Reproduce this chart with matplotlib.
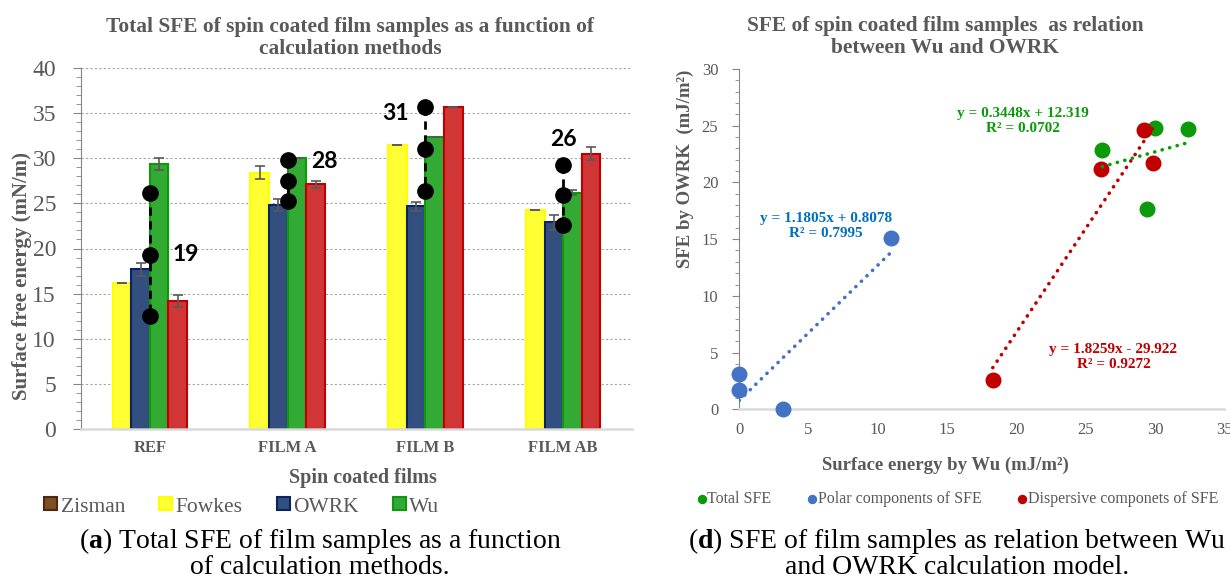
import numpy as np
import matplotlib
matplotlib.use("Agg")
import matplotlib.pyplot as plt
from matplotlib.patches import Patch
from matplotlib.ticker import MultipleLocator

plt.rcParams['font.family'] = ['Liberation Serif', 'DejaVu Serif']
plt.rcParams['mathtext.fontset'] = 'custom'
plt.rcParams['mathtext.rm'] = 'Liberation Serif'
plt.rcParams['mathtext.bf'] = 'Liberation Serif:bold'

GRAY = '#595959'

# ---- data, panel (a)
films = ['REF', 'FILM A', 'FILM B', 'FILM AB']
fowkes = [16.2, 28.4, 31.5, 24.3]
fowkes_err = [0.0, 0.7, 0.0, 0.0]
owrk = [17.7, 24.8, 24.7, 22.9]
owrk_err = [0.7, 0.7, 0.5, 0.8]
wu = [29.4, 30.0, 32.4, 26.2]
wu_err = [0.65, 0.0, 0.0, 0.3]
acid_base = [14.2, 27.1, 35.7, 30.5]
acid_base_err = [0.7, 0.4, 0.0, 0.7]
# three black points per film (max / mid / min)
spread = [[26.2, 19.3, 12.5],
          [29.8, 27.5, 25.3],
          [35.7, 31.0, 26.4],
          [29.3, 25.9, 22.6]]

# ---- data, panel (d)
total_x = [29.4, 30.0, 32.4, 26.2]
total_y = [17.7, 24.8, 24.7, 22.9]
polar_x = [0.0, 0.0, 3.15, 10.95]
polar_y = [3.07, 1.7, 0.0, 15.13]
disp_x = [18.3, 26.1, 29.2, 29.85]
disp_y = [2.56, 21.2, 24.6, 21.7]
eq_total = 'y = 0.3448x + 12.319\nR² = 0.0702'
eq_polar = 'y = 1.1805x + 0.8078\nR² = 0.7995'
eq_disp = 'y = 1.8259x - 29.922\nR² = 0.9272'

W, H = 1230, 583
fig = plt.figure(figsize=(W / 100, H / 100), dpi=100)

# ================= panel (a) =================
ax1 = fig.add_axes([81 / W, 1 - 429 / H, 551 / W, 361 / H])
x = np.arange(len(films))
w = 0.135
series = [(fowkes, fowkes_err, '#FFFF33', '#FFFF00', 'Fowkes'),
          (owrk, owrk_err, '#324F80', '#0B2461', 'OWRK'),
          (wu, wu_err, '#33AA33', '#0A9A0A', 'Wu'),
          (acid_base, acid_base_err, '#D13636', '#C00000', None)]
handles = {}
for k, (vals, err, fc, ec, name) in enumerate(series):
    b = ax1.bar(x + (k - 1.5) * w, vals, w, color=fc, edgecolor=ec, linewidth=1.5,
                yerr=err, capsize=3.5,
                error_kw=dict(ecolor=GRAY, elinewidth=1.2, capthick=1.2), zorder=2)
    if name:
        handles[name] = b

for i, pts in enumerate(spread):
    ax1.plot([i] * len(pts), pts, color='black', ls=(0, (3, 2)), lw=2,
             marker='o', ms=11, zorder=4)

lab_dx = [0.26, 0.27, -0.22, 0.0]
lab_y = [19.3, 29.6, 35.0, 32.1]
for i, pts in enumerate(spread):
    ax1.text(i + lab_dx[i], lab_y[i], f'{np.mean(pts):.0f}', ha='center', va='center',
             fontsize=16.5, fontweight='bold', family=['Lato', 'DejaVu Sans'], zorder=5)

ax1.set_xlim(-0.5, 3.5)
ax1.set_ylim(0, 40)
ax1.yaxis.set_major_locator(MultipleLocator(5))
ax1.yaxis.set_minor_locator(MultipleLocator(1))
ax1.set_xticks(x)
ax1.set_xticklabels(films, fontweight='bold', fontsize=12, color=GRAY)
ax1.tick_params(axis='x', length=0, pad=8)
ax1.tick_params(axis='y', which='major', length=6, color='#868686', labelsize=17,
                labelcolor=GRAY, pad=12)
ax1.tick_params(axis='y', which='minor', length=3.5, color='#868686')
ax1.grid(axis='y', ls=(0, (2, 2)), color='#A6A6A6', lw=0.8, zorder=0)
ax1.set_axisbelow(True)
for s in ['top', 'right']:
    ax1.spines[s].set_visible(False)
ax1.spines['left'].set_color('#868686')
ax1.spines['bottom'].set_color('#D9D9D9')
ax1.spines['bottom'].set_linewidth(1.8)

fig.text(350 / W, 1 - 38 / H, 'Total SFE of spin coated film samples as a function of\ncalculation methods',
         ha='center', va='center', fontsize=15.4, fontweight='bold', color=GRAY, linespacing=1.1)
fig.text(22 / W, 1 - 276 / H, 'Surface free energy (mN/m)', rotation=90, ha='center', va='center',
         fontsize=15, fontweight='bold', color=GRAY)
fig.text(363 / W, 1 - 478 / H, 'Spin coated films', ha='center', va='center',
         fontsize=14.5, fontweight='bold', color=GRAY)

leg_handles = [Patch(facecolor='#7F4F24', edgecolor='#4D2A0E', lw=1.5),
               handles['Fowkes'], handles['OWRK'], handles['Wu']]
leg1 = fig.legend(leg_handles, ['Zisman', 'Fowkes', 'OWRK', 'Wu'], loc='center',
                  bbox_to_anchor=(242 / W, 1 - 507 / H), ncol=4, frameon=False,
                  fontsize=15.5, handlelength=0.6, handleheight=0.55, handletextpad=0.15,
                  columnspacing=1.6, borderpad=0)
for t in leg1.get_texts():
    t.set_color(GRAY)

fig.text(320 / W, 1 - 553 / H, r'($\mathbf{a}$) Total SFE of film samples as a function' + '\nof calculation methods.',
         ha='center', va='center', fontsize=20, linespacing=1.0)

# ================= panel (d) =================
ax2 = fig.add_axes([739.1 / W, 1 - 409.3 / H, 485.2 / W, 340.3 / H])
groups = [(total_x, total_y, '#0A9A0A', 'Total SFE'),
          (polar_x, polar_y, '#4472C4', 'Polar components of SFE'),
          (disp_x, disp_y, '#C00000', 'Dispersive componets of SFE')]
sc = []
for gx, gy, c, name in groups:
    sc.append(ax2.scatter(gx, gy, s=110, color=c, label=name, zorder=3, clip_on=False))
for gx, gy, c, name in groups:
    p = np.polyfit(gx, gy, 1)
    xx = np.linspace(min(gx), max(gx), 50)
    ax2.plot(xx, np.polyval(p, xx), color=c, lw=2.6, ls=(0, (0.05, 2.1)),
             dash_capstyle='round', zorder=4)

ax2.text(20.5, 25.4, eq_total, color='#0A9A0A', ha='center', va='center',
         fontsize=11, fontweight='bold', multialignment='center')
ax2.text(6.27, 16.2, eq_polar, color='#0070C0', ha='center', va='center',
         fontsize=11, fontweight='bold', multialignment='center')
ax2.text(27.0, 4.6, eq_disp, color='#C00000', ha='center', va='center',
         fontsize=11, fontweight='bold', multialignment='center')

ax2.set_xlim(0, 35)
ax2.set_ylim(0, 30)
ax2.xaxis.set_major_locator(MultipleLocator(5))
ax2.yaxis.set_major_locator(MultipleLocator(5))
ax2.yaxis.set_minor_locator(MultipleLocator(1))
ax2.tick_params(axis='x', length=0, pad=9, labelsize=12, labelcolor=GRAY)
ax2.tick_params(axis='y', which='major', length=5, color='#868686', labelsize=12,
                labelcolor=GRAY, pad=10)
ax2.tick_params(axis='y', which='minor', length=3, color='#868686')
for s in ['top', 'right']:
    ax2.spines[s].set_visible(False)
ax2.spines['left'].set_color('#868686')
ax2.spines['bottom'].set_color('#D9D9D9')
ax2.spines['bottom'].set_linewidth(1.8)

fig.text(945 / W, 1 - 37 / H, 'SFE of spin coated film samples  as relation\nbetween Wu and OWRK',
         ha='center', va='center', fontsize=15.4, fontweight='bold', color=GRAY, linespacing=1.1)
fig.text(685 / W, 1 - 169 / H, 'SFE by OWRK  (mJ/m²)', rotation=90, ha='center', va='center',
         fontsize=13.5, fontweight='bold', color=GRAY)
fig.text(945 / W, 1 - 465 / H, 'Surface energy by Wu (mJ/m²)', ha='center', va='center',
         fontsize=13.5, fontweight='bold', color=GRAY)

leg2 = fig.legend(handles=sc, loc='center', bbox_to_anchor=(958 / W, 1 - 499 / H), ncol=3,
                  frameon=False, fontsize=11.5, markerscale=0.55, handlelength=0.5,
                  handletextpad=0.1, columnspacing=2.3, borderpad=0, scatterpoints=1)
for t in leg2.get_texts():
    t.set_color(GRAY)

fig.text(957 / W, 1 - 553 / H, r'($\mathbf{d}$) SFE of film samples as relation between Wu' + '\nand OWRK calculation model.',
         ha='center', va='center', fontsize=20, linespacing=1.0)

fig.savefig('out.png', dpi=100)
